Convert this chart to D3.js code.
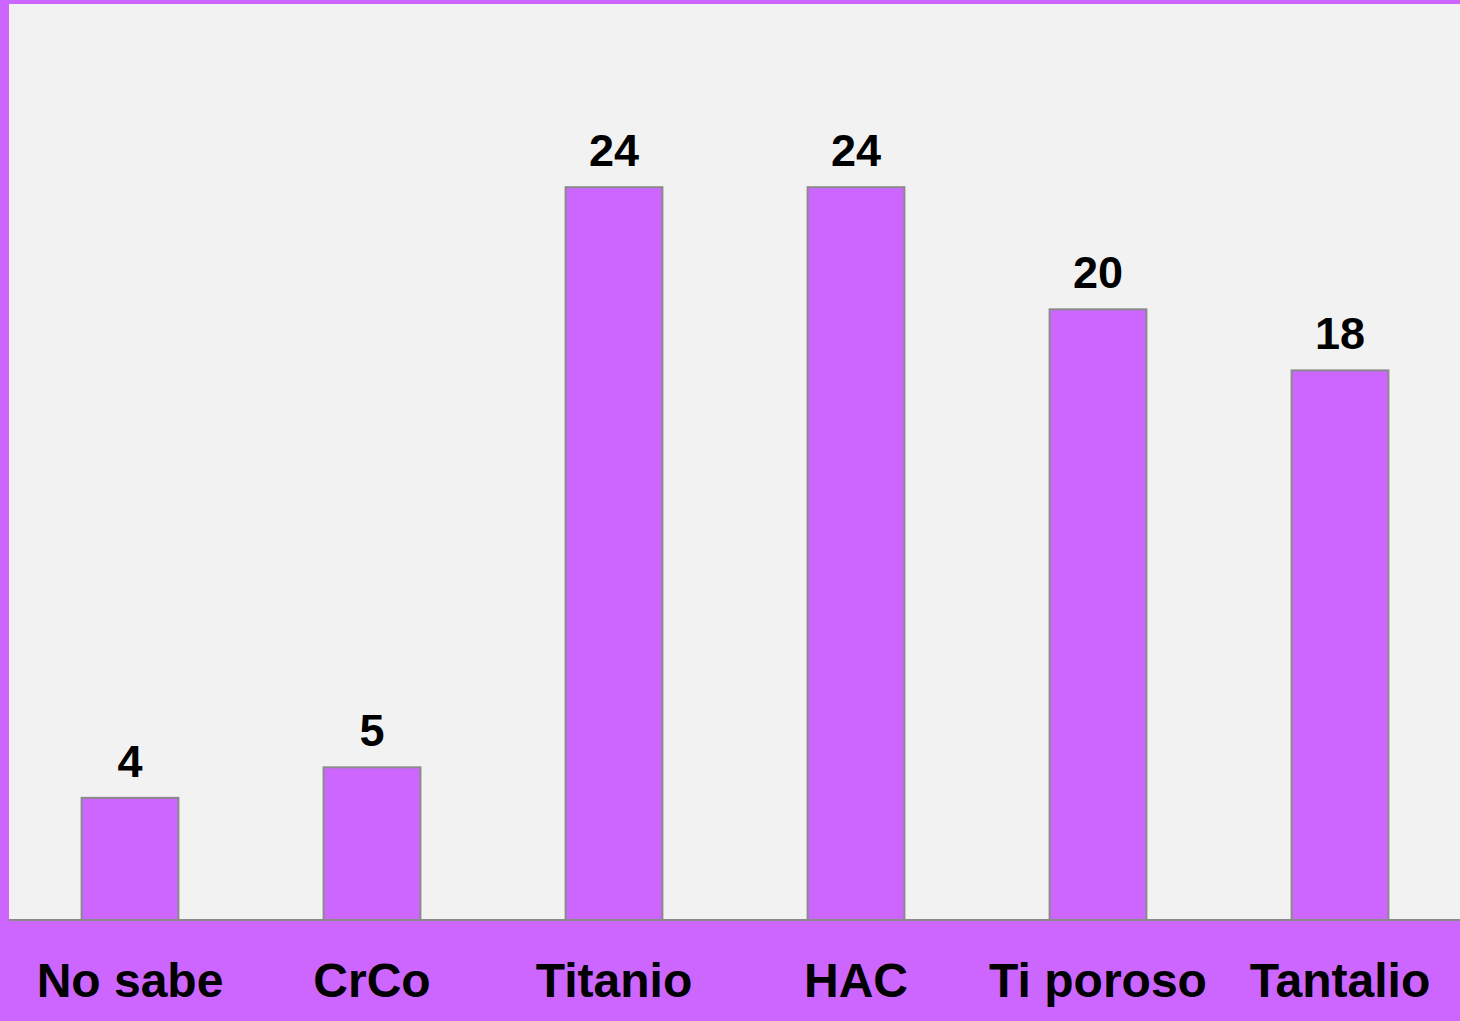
<!DOCTYPE html>
<html>
<head>
<meta charset="utf-8">
<script src="https://cdn.jsdelivr.net/npm/d3@7"></script>
<style>
  html, body { margin: 0; padding: 0; background: #cc66ff; }
  svg { display: block; }
</style>
</head>
<body>
<div id="chart-area"></div>
<script>
// Data
const categories = ["No sabe", "CrCo", "Titanio", "HAC", "Ti poroso", "Tantalio"];
const values = [4, 5, 24, 24, 20, 18];
const yMax = 30;

const width = 1460, height = 1021;
const margin = ({top: 4, right: -1, bottom: 101, left: 9});

const svg = d3.select("#chart-area").append("svg")
    .attr("width", width)
    .attr("height", height);

// purple frame + gray plot area
svg.append("rect")
    .attr("width", width).attr("height", height)
    .attr("fill", "#cc66ff");

svg.append("rect")
    .attr("x", margin.left).attr("y", margin.top)
    .attr("width", width - margin.left)
    .attr("height", height - margin.bottom - margin.top)
    .attr("fill", "#f2f2f2");

const x = d3.scaleBand()
    .domain(categories)
    .range([margin.left, width - margin.right])
    .paddingInner(0.6)
    .paddingOuter(0.3);

const y = d3.scaleLinear()
    .domain([0, yMax])
    .range([height - margin.bottom, margin.top]);

const data = categories.map((c, i) => ({name: c, value: values[i]}));

// bars
svg.append("g")
    .selectAll("rect")
    .data(data)
    .join("rect")
    .attr("x", d => x(d.name))
    .attr("y", d => y(d.value))
    .attr("width", x.bandwidth())
    .attr("height", d => y(0) - y(d.value))
    .attr("fill", "#cc66ff")
    .attr("stroke", "#8a8a8a")
    .attr("stroke-width", 2);

// baseline
svg.append("line")
    .attr("x1", margin.left).attr("x2", width)
    .attr("y1", y(0)).attr("y2", y(0))
    .attr("stroke", "#8a8a8a")
    .attr("stroke-width", 2);

// value labels
svg.append("g")
    .selectAll("text")
    .data(data)
    .join("text")
    .attr("x", d => x(d.name) + x.bandwidth() / 2)
    .attr("y", d => y(d.value) - 21)
    .attr("text-anchor", "middle")
    .style("font", "bold 45px 'Liberation Sans', Arial, sans-serif")
    .attr("fill", "#000")
    .text(d => d.value);

// category labels
const xAxis = g => g
    .attr("transform", `translate(0,${y(0)})`)
    .call(d3.axisBottom(x).tickSize(0).tickPadding(0))
    .call(g => g.select(".domain").remove())
    .call(g => g.selectAll("text")
        .attr("dy", null)
        .attr("y", 77)
        .attr("fill", "#000")
        .style("font", "bold 48px 'Liberation Sans', Arial, sans-serif"));

svg.append("g").call(xAxis);
</script>
</body>
</html>
